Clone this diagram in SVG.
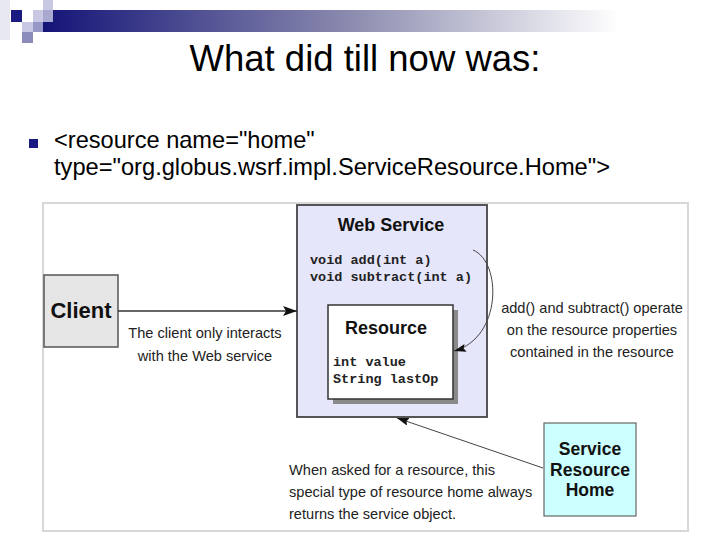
<svg xmlns="http://www.w3.org/2000/svg" width="720" height="540" viewBox="0 0 720 540">
<defs>
<linearGradient id="bar" x1="0" y1="0" x2="1" y2="0">
<stop offset="0" stop-color="#141478"/>
<stop offset="0.45" stop-color="#8a8aae"/>
<stop offset="0.85" stop-color="#ffffff"/>
<stop offset="1" stop-color="#ffffff"/>
</linearGradient>
<marker id="ah" markerUnits="userSpaceOnUse" markerWidth="16" markerHeight="12" refX="14" refY="5" orient="auto">
<path d="M0,0 L14,5 L0,10 L3,5 Z" fill="#111"/>
</marker>
<marker id="ahs" markerUnits="userSpaceOnUse" markerWidth="14" markerHeight="10" refX="12" refY="4" orient="auto">
<path d="M0,0 L12,4 L0,8 L2,4 Z" fill="#111"/>
</marker>
</defs>
<style>
.title{font-family:"Liberation Sans",Arial,sans-serif;font-size:36.5px;fill:#000}
.body{font-family:"Liberation Sans",Arial,sans-serif;font-size:23.6px;fill:#000}
.lbl{font-family:"Liberation Sans",Arial,sans-serif;font-size:14.6px;fill:#222}
.bold{font-family:"Liberation Sans",Arial,sans-serif;font-weight:bold;fill:#111}
.code{font-family:"Liberation Mono","Courier New",monospace;font-weight:bold;font-size:13.5px;fill:#222}
.conn{fill:none;stroke:#444;stroke-width:1}
</style>
<rect width="720" height="540" fill="#fff"/>
<!-- header decoration -->
<rect x="0" y="0" width="10" height="40" fill="#e8e8f3"/>
<rect x="43" y="10" width="677" height="22" fill="url(#bar)"/>
<rect x="11" y="10" width="11" height="12" fill="#1a1a80"/>
<rect x="33" y="10" width="10" height="12" fill="#c8c8e4"/>
<rect x="43" y="10" width="10" height="12" fill="#a8a8d0"/>
<rect x="43" y="0" width="10" height="10" fill="#c8c8e2"/>
<rect x="22" y="22" width="11" height="10" fill="#c8c8e4"/>
<rect x="33" y="22" width="10" height="10" fill="#9898c8"/>
<rect x="22" y="32" width="11" height="11" fill="#8c8cbc"/>
<text class="title" x="365" y="71" text-anchor="middle">What did till now was:</text>
<rect x="29" y="139" width="9" height="9" fill="#1a1a80"/>
<text class="body" x="54" y="148">&lt;resource name="home"</text>
<text class="body" x="54" y="175" textLength="556" lengthAdjust="spacingAndGlyphs">type="org.globus.wsrf.impl.ServiceResource.Home"&gt;</text>
<!-- diagram frame -->
<rect x="43" y="203" width="645" height="328" fill="#fff" stroke="#d8d8d8" stroke-width="2"/>
<g id="client">
<rect x="44" y="275" width="74" height="72" fill="#e6e6e6" stroke="#555" stroke-width="1.5"/>
<text class="bold" x="81" y="318" font-size="22" text-anchor="middle">Client</text>
</g>
<g id="web-service">
<rect x="297" y="205" width="190" height="212" fill="#e6e6fa" stroke="#444" stroke-width="1.8"/>
<text class="bold" x="391" y="231" font-size="18" text-anchor="middle">Web Service</text>
<text class="code" x="310" y="264">void add(int a)</text>
<text class="code" x="310" y="281">void subtract(int a)</text>
</g>
<g id="resource">
<rect x="333" y="310" width="125" height="94" fill="#8a8a8a"/>
<rect x="328" y="305" width="125" height="94" fill="#fff" stroke="#333" stroke-width="1.5"/>
<text class="bold" x="386" y="334" font-size="18" text-anchor="middle">Resource</text>
<text class="code" x="333" y="366">int value</text>
<text class="code" x="333" y="383">String lastOp</text>
</g>
<g id="service-resource-home">
<rect x="544" y="423" width="92" height="93" fill="#ccffff" stroke="#666" stroke-width="1.2"/>
<text class="bold" x="590" y="455" font-size="17.5" text-anchor="middle">Service</text>
<text class="bold" x="590" y="476" font-size="17.5" text-anchor="middle">Resource</text>
<text class="bold" x="590" y="496" font-size="17.5" text-anchor="middle">Home</text>
</g>
<g id="connectors">
<line x1="118" y1="311" x2="297" y2="311" stroke="#333" stroke-width="1.5" marker-end="url(#ah)"/>
<path class="conn" d="M473,250 C502,262 502,338 454,351" marker-end="url(#ahs)"/>
<line class="conn" x1="543" y1="468" x2="397" y2="418" marker-end="url(#ahs)"/>
</g>
<g id="labels">
<text class="lbl" x="205" y="338" text-anchor="middle">The client only interacts</text>
<text class="lbl" x="205" y="361" text-anchor="middle">with the Web service</text>
<text class="lbl" x="592" y="313" text-anchor="middle">add() and subtract() operate</text>
<text class="lbl" x="592" y="335" text-anchor="middle">on the resource properties</text>
<text class="lbl" x="592" y="357" text-anchor="middle">contained in the resource</text>
<text class="lbl" x="289" y="475">When asked for a resource, this</text>
<text class="lbl" x="289" y="497">special type of resource home always</text>
<text class="lbl" x="289" y="519">returns the service object.</text>
</g>
</svg>
